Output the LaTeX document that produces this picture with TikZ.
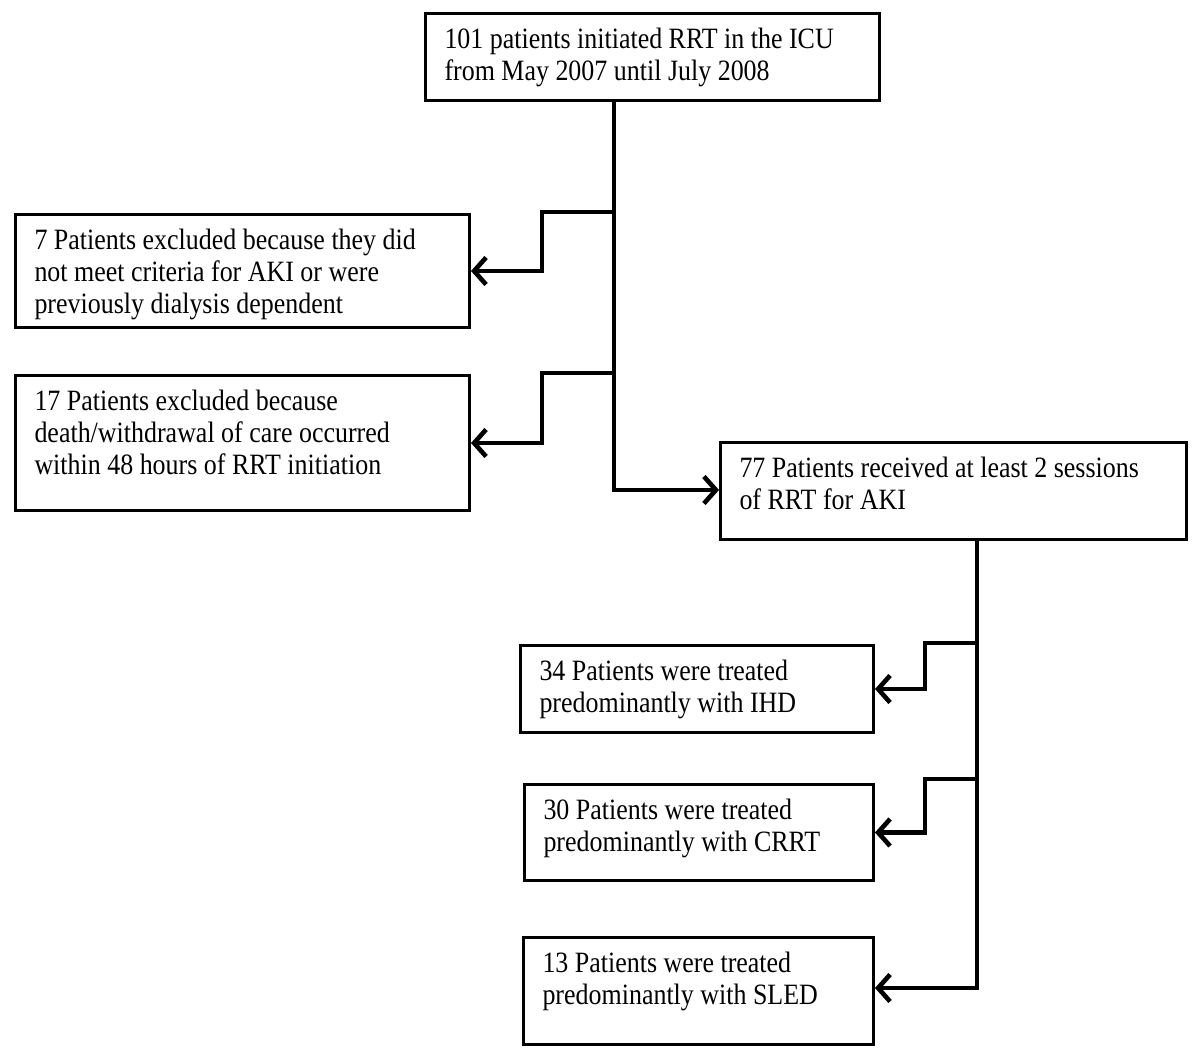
\documentclass[tikz,border=0pt]{standalone}
\usepackage{fontspec}
\setmainfont{Liberation Serif}[FakeStretch=0.88]
\usetikzlibrary{arrows.meta}
\tikzset{
  fbox/.style={draw=black, line width=3pt, inner xsep=19pt, inner ysep=13pt,
    anchor=north west, font=\fontsize{29.5}{32}\selectfont},
  conn/.style={draw=black, line width=4.6pt, miter limit=10},
  arr/.style={conn, -{Straight Barb[length=12pt,width=27pt,line width=4.6pt]}}
}
\newcommand\flowbox[6]{%
  \node[fbox] (#1) at (#2,#3)
    {\parbox[t][\dimexpr #5pt-26pt\relax][t]{\dimexpr #4pt-38pt\relax}{\raggedright\strut #6}};}
\begin{document}
\begin{tikzpicture}[x=1pt,y=-1pt]
\fill[white] (0,0) rectangle (1200,1059);
\useasboundingbox (0,0) rectangle (1200,1059);

\flowbox{top}{424}{12}{454}{87}{101 patients initiated RRT in the ICU\\from May 2007 until July 2008}
\flowbox{ex7}{14}{213}{454}{113}{7 Patients excluded because they did\\not meet criteria for AKI or were\\previously dialysis dependent}
\flowbox{ex17}{14}{374}{454}{135}{17 Patients excluded because\\death/withdrawal of care occurred\\within 48 hours of RRT initiation}
\flowbox{rec}{719}{441}{466}{97}{77 Patients received at least 2 sessions\\of RRT for AKI}
\flowbox{ihd}{519}{644}{353}{87}{34 Patients were treated\\predominantly with IHD}
\flowbox{crrt}{523}{783}{349}{96}{30 Patients were treated\\predominantly with CRRT}
\flowbox{sled}{522}{936}{350}{107}{13 Patients were treated\\predominantly with SLED}

\coordinate (j1) at (614,212);
\coordinate (k1) at (542,212);
\coordinate (j2) at (614,373);
\coordinate (k2) at (542,373);
\coordinate (j3) at (614,490);
\coordinate (m1) at (977,643);
\coordinate (n1) at (925,643);
\coordinate (m2) at (977,779);
\coordinate (n2) at (925,779);
\coordinate (m3) at (977,988);

\draw[arr] (top.south -| j3) -- (j3) -- (j3 -| rec.west);
\draw[arr] (j1) -- (k1) -- (k1 |- ex7.east) -- (ex7.east);
\draw[arr] (j2) -- (k2) -- (k2 |- ex17.east) -- (ex17.east);

\draw[arr] (rec.south -| m3) -- (m3) -- (m3 -| sled.east);
\draw[arr] (m1) -- (n1) -- (n1 |- ihd.east) -- (ihd.east);
\draw[arr] (m2) -- (n2) -- (n2 |- crrt.east) -- (crrt.east);
\end{tikzpicture}
\end{document}
